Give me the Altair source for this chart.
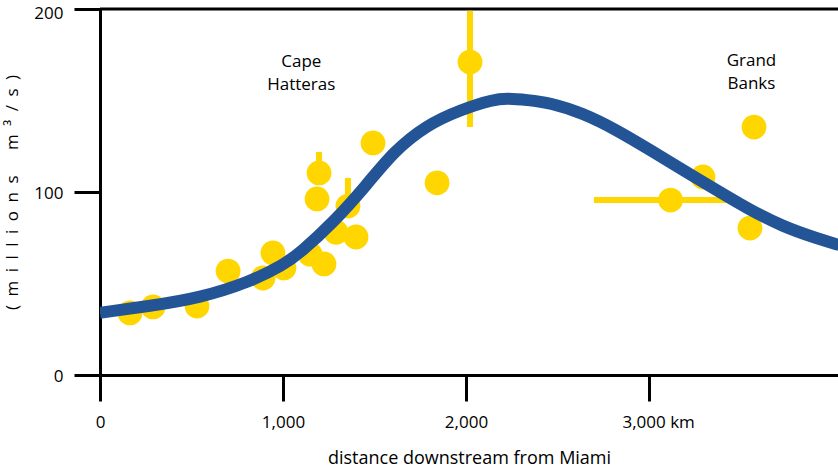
import altair as alt
import pandas as pd

# observed transport points
pt_km = [164, 290, 530, 700, 891, 945, 1005, 1148, 1224, 1186, 1197, 1290, 1355, 1399, 1492, 1842, 2022, 3118, 3295, 3574, 3552]
pt_val = [33.9, 37.2, 37.7, 56.8, 53.0, 66.7, 58.5, 66.0, 60.7, 96.2, 110.4, 78.0, 92.3, 75.4, 126.8, 105.0, 171.0, 95.6, 108.2, 135.5, 80.3]

# error bars (x, x2, y, y2)
err_x = [1197, 1355, 2022, 2699]
err_x2 = [1197, 1355, 2022, 3470]
err_y = [110.4, 92.3, 135.5, 95.6]
err_y2 = [121.9, 107.7, 199.0, 95.6]

# fitted curve
curve_km = [0, 273, 546, 820, 1000, 1093, 1273, 1459, 1603, 1785, 1967, 2149, 2230, 2332, 2459, 2641, 2823, 3005, 3187, 3370, 3552, 3734, 3916, 4040]
curve_val = [34.0, 37.7, 42.1, 50.9, 60.0, 66.7, 83.1, 104.0, 122.0, 136.6, 144.8, 150.6, 151.2, 150.3, 148.8, 143.0, 133.9, 123.0, 112.0, 101.0, 90.2, 81.0, 74.7, 71.0]

# place labels
lab_km = [1100, 3560]
lab_val = [171, 171.5]
lab_text = [["Cape", "Hatteras"], ["Grand", "Banks"]]

XMAX = 4033
YEL = "#FFD600"
BLUE = "#235496"
FONT = "Open Sans"

pts = pd.DataFrame({"km": pt_km, "val": pt_val})
err = pd.DataFrame({"x": err_x, "x2": err_x2, "y": err_y, "y2": err_y2})
crv = pd.DataFrame({"km": curve_km, "val": curve_val})
labs = pd.DataFrame({"km": lab_km, "val": lab_val, "t": lab_text})

xs = alt.Scale(domain=[0, XMAX], nice=False, zero=False)
ys = alt.Scale(domain=[0, 200], nice=False)

G = "\u2002"
ytitle = G.join(["(", "m", "i", "l", "l", "i", "o", "n", "s"]) + G + "\u2002\u2002" + G.join(["m", "³", "/", "s", ")"])

xaxis = alt.Axis(
    values=[0, 1000, 2000, 3000],
    labelExpr="datum.value == 3000 ? '3,000 km' : format(datum.value, ',')",
    labelAlign={"condition": {"test": "datum.value == 3000", "value": "left"}, "value": "center"},
    labelOffset={"condition": {"test": "datum.value == 3000", "value": -27}, "value": 0},
    title="distance downstream from Miami",
    titlePadding=19,
    titleFontSize=18,
)
yaxis = alt.Axis(
    values=[0, 100, 200],
    title=ytitle,
    titlePadding=12,
    labelOffset={"condition": {"test": "datum.value == 200", "value": 4}, "value": 1},
)

top = alt.Chart(pd.DataFrame({"y": [200]})).mark_rule(color="black", strokeWidth=3).encode(
    y=alt.Y("y:Q", scale=ys, axis=yaxis)
)

bars = alt.Chart(err).mark_rule(color=YEL, strokeWidth=6).encode(
    x=alt.X("x:Q", scale=xs, axis=xaxis),
    x2="x2:Q",
    y=alt.Y("y:Q", scale=ys, axis=yaxis),
    y2="y2:Q",
)

points = alt.Chart(pts).mark_circle(color=YEL, opacity=1, size=615).encode(
    x=alt.X("km:Q", scale=xs, axis=xaxis),
    y=alt.Y("val:Q", scale=ys, axis=yaxis),
)

line = alt.Chart(crv).mark_line(color=BLUE, strokeWidth=12, interpolate="basis", clip=True).encode(
    x=alt.X("km:Q", scale=xs, axis=xaxis),
    y=alt.Y("val:Q", scale=ys, axis=yaxis),
)

text = alt.Chart(labs).mark_text(font=FONT, fontSize=17, color="black", lineHeight=23, align="center", baseline="middle").encode(
    x=alt.X("km:Q", scale=xs, axis=xaxis),
    y=alt.Y("val:Q", scale=ys, axis=yaxis),
    text="t",
)

chart = alt.layer(top, bars, points, line, text).properties(
    width=738, height=366,
    autosize=alt.AutoSizeParams(type="none"),
    padding={"left": 100, "top": 9, "right": 0, "bottom": 98},
).configure_view(stroke=None).configure_axis(
    grid=False,
    domainColor="black", domainWidth=3,
    tickColor="black", tickWidth=3, tickSize=26,
    labelFont=FONT, labelFontSize=17, labelColor="black", labelPadding=11,
    titleFont=FONT, titleFontSize=17, titleColor="black", titleFontWeight="normal",
).configure_axisX(labelPadding=13)

chart.save("out.html", embed_options={"renderer": "svg", "actions": False})
